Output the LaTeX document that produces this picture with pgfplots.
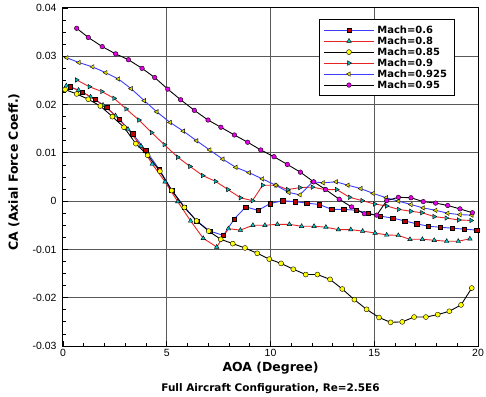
\documentclass[border=0pt]{standalone}
\usepackage{fontspec}
\setmainfont{Liberation Sans}
\newfontfamily\boldfont[BoldFont={DejaVu Sans Bold}]{DejaVu Sans}
\usepackage{pgfplots}
\pgfplotsset{compat=1.18}
\definecolor{lblue}{RGB}{60,60,255}
\definecolor{lred}{RGB}{230,35,35}
\definecolor{mred}{RGB}{190,0,0}
\definecolor{mcyan}{RGB}{0,200,200}
\definecolor{mteal}{RGB}{0,180,180}
\definecolor{myel}{RGB}{255,255,0}
\definecolor{mole}{RGB}{225,215,0}
\definecolor{mmag}{RGB}{230,0,230}
\begin{document}
\begin{tikzpicture}
\begin{axis}[name=ax, scale only axis, width=415bp, height=338bp,
  xmin=0, xmax=20, ymin=-0.03, ymax=0.04,
  xtick={0,5,10,15,20},
  ytick={-0.03,-0.02,-0.01,0,0.01,0.02,0.03,0.04},
  yticklabels={-0.03,-0.02,-0.01,0,0.01,0.02,0.03,0.04},
  minor x tick num=4, minor y tick num=3,
  tick pos=left, tick align=inside,
  major tick length=5bp, minor tick length=3bp,
  tick style={black, line width=0.8bp},
  grid=major, major grid style={black!65, line width=1bp},
  axis line style={line width=1bp},
  /pgf/number format/assume math mode=true,
  ticklabel style={font=\fontsize{10.5}{12}\selectfont},
  yticklabel style={xshift=-3bp},
  scaled y ticks=false,
  xlabel={AOA (Degree)},
  xlabel style={font=\boldfont\bfseries\fontsize{12.5}{14}\selectfont, at={(0.5,0)}, anchor=center, yshift=-22bp},
  legend style={at={(0.943,0.967)}, anchor=north east, draw=black, line width=0.8bp,
    font=\boldfont\bfseries\fontsize{10}{10}\selectfont,
    nodes={inner ysep=1bp, text height=7.5bp, text depth=1.5bp, inner xsep=3bp},
    inner xsep=4bp, inner ysep=5bp, row sep=0pt},
  legend cell align=left,
  legend image code/.code={\draw[mark repeat=2,mark phase=2] plot coordinates {(0bp,0bp) (25bp,0bp) (50bp,0bp)};},
]
% Mach 0.6
\addplot[lblue, line width=0.9bp, mark=square*, mark size=2.2bp, mark options={fill=mred, draw=black, line width=0.4bp}] coordinates {
(0.34,0.0237)(0.93,0.0226)(1.54,0.0211)(2.11,0.0194)(2.71,0.0170)(3.35,0.0140)(3.99,0.0105)(4.64,0.0066)(5.24,0.0023)(5.85,-0.0012)(6.44,-0.0041)(7.08,-0.0062)(7.73,-0.0071)(8.25,-0.0037)(8.81,-0.0012)(9.40,-0.0019)(9.99,-0.0005)(10.58,0.0001)(11.18,-0.0001)(11.74,-0.0004)(12.35,-0.0007)(12.95,-0.0017)(13.53,-0.0017)(14.12,-0.0019)(14.71,-0.0025)(15.28,-0.0031)(15.88,-0.0035)(16.47,-0.0041)(17.05,-0.0047)(17.61,-0.0052)(18.17,-0.0054)(18.76,-0.0056)(19.34,-0.0058)(19.94,-0.0060)};
\addlegendentry{Mach=0.6}
% Mach 0.8
\addplot[lred, line width=0.9bp, mark=triangle*, mark size=2.6bp, mark options={fill=mcyan, draw=black, line width=0.4bp}] coordinates {
(0.16,0.0239)(0.75,0.0230)(1.33,0.0216)(1.93,0.0199)(2.53,0.0177)(3.13,0.0149)(3.76,0.0114)(4.30,0.0077)(4.92,0.0040)(5.53,-0.0001)(6.15,-0.0041)(6.76,-0.0077)(7.41,-0.0095)(7.97,-0.0057)(8.55,-0.0060)(9.15,-0.0050)(9.73,-0.0050)(10.33,-0.0048)(10.91,-0.0048)(11.50,-0.0052)(12.10,-0.0052)(12.67,-0.0054)(13.27,-0.0059)(13.87,-0.0059)(14.44,-0.0062)(15.04,-0.0066)(15.60,-0.0070)(16.16,-0.0071)(16.72,-0.0079)(17.32,-0.0079)(17.89,-0.0081)(18.49,-0.0083)(19.05,-0.0083)(19.61,-0.0078)};
\addlegendentry{Mach=0.8}
% Mach 0.85
\addplot[black, line width=0.9bp, mark=*, mark size=2.5bp, mark options={fill=myel, draw=black, line width=0.4bp}] coordinates {
(0.10,0.0231)(0.66,0.0222)(1.22,0.0211)(1.80,0.0197)(2.38,0.0175)(2.94,0.0153)(3.51,0.0119)(4.08,0.0095)(4.67,0.0062)(5.24,0.0022)(5.85,-0.0013)(6.44,-0.0041)(7.02,-0.0062)(7.60,-0.0079)(8.18,-0.0088)(8.77,-0.0097)(9.36,-0.0108)(9.94,-0.0120)(10.51,-0.0129)(11.10,-0.0141)(11.70,-0.0152)(12.26,-0.0152)(12.87,-0.0162)(13.46,-0.0182)(14.04,-0.0204)(14.63,-0.0224)(15.23,-0.0241)(15.79,-0.0251)(16.35,-0.0250)(16.92,-0.0240)(17.49,-0.0240)(18.06,-0.0235)(18.62,-0.0228)(19.18,-0.0215)(19.70,-0.0180)};
\addlegendentry{Mach=0.85}
% Mach 0.9
\addplot[lred, line width=0.9bp, mark=triangle*, mark size=2.6bp, mark options={rotate=-90, fill=mteal, draw=black, line width=0.4bp}] coordinates {
(0.66,0.0251)(1.27,0.0237)(1.87,0.0227)(2.46,0.0213)(3.04,0.0191)(3.66,0.0168)(4.27,0.0142)(4.88,0.0117)(5.53,0.0091)(6.12,0.0072)(6.73,0.0053)(7.35,0.0041)(7.95,0.0024)(8.55,0.0007)(9.13,0.0001)(9.62,0.0033)(10.27,0.0033)(10.83,0.0024)(11.42,0.0028)(12.02,0.0029)(12.63,0.0024)(13.19,0.0024)(13.81,0.0008)(14.42,0.0001)(15.02,-0.0006)(15.60,-0.0010)(16.17,-0.0017)(16.77,-0.0021)(17.30,-0.0024)(17.89,-0.0032)(18.47,-0.0035)(19.07,-0.0039)(19.67,-0.0040)};
\addlegendentry{Mach=0.9}
% Mach 0.925
\addplot[lblue, line width=0.9bp, mark=triangle*, mark size=2.6bp, mark options={rotate=90, fill=mole, draw=black, line width=0.4bp}] coordinates {
(0.18,0.0297)(0.77,0.0287)(1.43,0.0278)(2.06,0.0266)(2.67,0.0253)(3.28,0.0233)(3.92,0.0208)(4.52,0.0185)(5.16,0.0163)(5.80,0.0145)(6.44,0.0125)(7.07,0.0106)(7.70,0.0087)(8.33,0.0070)(8.97,0.0059)(9.61,0.0046)(10.25,0.0033)(10.88,0.0018)(11.42,0.0013)(12.03,0.0040)(12.54,0.0038)(13.16,0.0040)(13.73,0.0033)(14.35,0.0026)(14.95,0.0016)(15.58,0.0007)(16.17,0.0000)(16.77,-0.0007)(17.36,-0.0014)(17.96,-0.0019)(18.54,-0.0025)(19.13,-0.0028)(19.70,-0.0029)};
\addlegendentry{Mach=0.925}
% Mach 0.95
\addplot[black, line width=0.9bp, mark=*, mark size=2.3bp, mark options={fill=mmag, draw=black, line width=0.4bp}] coordinates {
(0.66,0.0358)(1.22,0.0339)(1.89,0.0320)(2.54,0.0305)(3.15,0.0293)(3.81,0.0275)(4.42,0.0256)(5.05,0.0232)(5.67,0.0210)(6.33,0.0188)(6.99,0.0168)(7.61,0.0153)(8.26,0.0137)(8.90,0.0122)(9.53,0.0106)(10.17,0.0092)(10.81,0.0076)(11.44,0.0060)(12.08,0.0040)(12.66,0.0024)(13.31,0.0004)(13.91,-0.0012)(14.52,-0.0026)(15.12,-0.0029)(15.60,0.0001)(16.16,0.0008)(16.77,0.0007)(17.36,-0.0001)(17.96,-0.0004)(18.54,-0.0009)(19.13,-0.0016)(19.73,-0.0024)};
\addlegendentry{Mach=0.95}
\end{axis}
\node[font=\boldfont\bfseries\fontsize{12.5}{14}\selectfont, rotate=90, anchor=center] at ([xshift=-49bp, yshift=5bp]ax.west) {CA (Axial Force Coeff.)};
\node[font=\boldfont\bfseries\fontsize{10.5}{12}\selectfont, anchor=center] at ([yshift=-43bp]ax.south) {Full Aircraft Configuration, Re=2.5E6};
\pgfresetboundingbox
\path ([shift={(-63bp,-51bp)}]ax.south west) rectangle ([shift={(8bp,8bp)}]ax.north east);
\end{tikzpicture}
\end{document}
